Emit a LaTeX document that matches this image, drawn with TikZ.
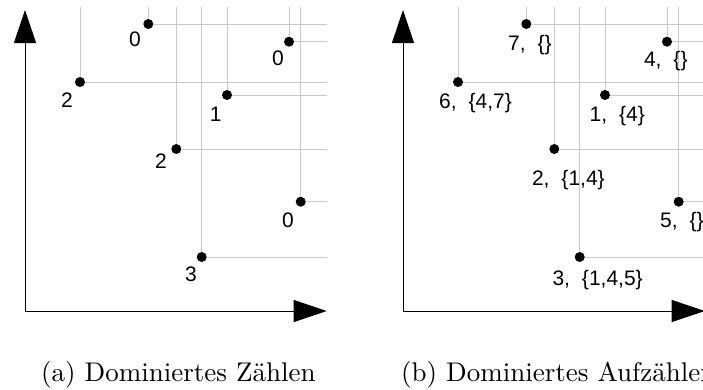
\documentclass[tikz,border=0pt]{standalone}
\usepackage{fontspec}
\newfontfamily\labelfont{Liberation Sans}
\usetikzlibrary{arrows.meta}
\begin{document}
\begin{tikzpicture}[x=1pt,y=-1pt,
  dot/.style={circle,fill=black,inner sep=0pt,minimum size=10pt},
  guide/.style={draw=black!22,line width=1pt},
  axis/.style={draw=black,line width=1pt,line join=miter,
    {Triangle[length=33pt,width=22pt]}-{Triangle[length=33pt,width=22pt]}},
  lbl/.style={anchor=base west,inner sep=0pt,font=\labelfont\fontsize{21}{25}\selectfont},
  captext/.style={anchor=base west,inner sep=0pt}]
\useasboundingbox (0,0) rectangle (703,389);
\clip (0,0) rectangle (703,389);

% guide line ends: top edge and right edges of both panels
\coordinate (top) at (0,7);
\coordinate (aend) at (326.7,0);
\coordinate (bend) at (704.7,0);

% points of both panels (panel b is panel a shifted right)
\foreach \p/\x/\y in {7/148.3/24, 4/289/41.7, 6/80/82, 1/227/95,
                      2/176.3/149, 5/300.7/201.7, 3/201.7/257} {
  \node[dot] (a\p) at (\x,\y) {};
  \node[dot] (b\p) at (\x+378,\y) {};
}
\foreach \p in {1,...,7} {
  \draw[guide] (a\p) -- (a\p |- top);
  \draw[guide] (a\p) -- (a\p -| aend);
  \draw[guide] (b\p) -- (b\p |- top);
  \draw[guide] (b\p) -- (b\p -| bend);
}

% axes
\coordinate (ao) at (25,311);
\coordinate (ay) at (25,10);
\coordinate (ax) at (326.7,311);
\draw[axis] (ay) -- (ao) -- (ax);
\coordinate (bo) at (403,311);
\coordinate (by) at (403,10);
\coordinate (bx) at (704.7,311);
\draw[axis] (by) -- (bo) -- (bx);

% labels, panel a
\node[lbl] (la7) at (129,46.7) {0};
\node[lbl] (la4) at (271.8,65) {0};
\node[lbl] (la6) at (60.8,107.3) {2};
\node[lbl] (la1) at (209.7,121.7) {1};
\node[lbl] (la2) at (155,168.3) {2};
\node[lbl] (la5) at (281.8,227.7) {0};
\node[lbl] (la3) at (185,281.5) {3};

% labels, panel b
\node[lbl] (lb7) at (508,50) {7,\hspace{0.57em}\{\}};
\node[lbl] (lb4) at (643.8,66.7) {4,\hspace{0.57em}\{\}};
\node[lbl] (lb6) at (439,108.3) {6,\hspace{0.57em}\{4,7\}};
\node[lbl] (lb1) at (589.4,121.7) {1,\hspace{0.57em}\{4\}};
\node[lbl] (lb2) at (531.8,185) {2,\hspace{0.57em}\{1,4\}};
\node[lbl] (lb5) at (660,227) {5,\hspace{0.57em}\{\}};
\node[lbl] (lb3) at (552.3,285) {3,\hspace{0.57em}\{1,4,5\}};

% captions
\node[captext] (capa) at (41,381.7) {\scalebox{2.7}{(a) Dominiertes Zählen}};
\node[captext] (capb) at (401,381.7) {\scalebox{2.7}{(b) Dominiertes Aufzählen}};
\end{tikzpicture}
\end{document}
